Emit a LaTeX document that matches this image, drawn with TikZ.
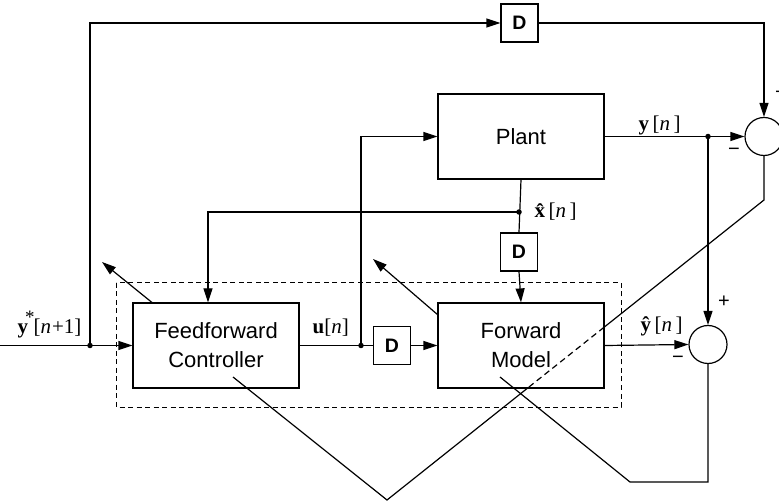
\documentclass[tikz,border=0pt]{standalone}
\usepackage{fontspec}
\setmainfont{Liberation Sans}
\newfontfamily\mathser{Liberation Serif}
\usetikzlibrary{arrows.meta}
\begin{document}
\begin{tikzpicture}[x=1pt,y=-1pt, line width=1.2pt,
  blk/.style={draw, fill=white, minimum width=166pt, minimum height=85pt, align=center, font=\fontsize{22}{29}\selectfont, inner sep=0pt},
  dbox/.style={draw, fill=white, minimum width=37pt, minimum height=38pt, inner sep=0pt, font=\fontsize{19.5}{20}\selectfont\bfseries},
  sumc/.style={draw, circle, minimum size=38pt, inner sep=0pt},
  arr/.style={-{Triangle[length=14pt,width=9pt]}},
  dot/.style={circle, fill, inner sep=0pt, minimum size=5.5pt},
  lbl/.style={font=\mathser\fontsize{21}{21}\selectfont, inner sep=0pt},
  sgn/.style={font=\fontsize{20}{20}\selectfont, inner sep=0pt},
  dashbox/.style={draw, line width=1pt, dash pattern=on 5pt off 3.5pt}
]
\useasboundingbox (0,0) rectangle (779,502);

% dashed enclosure
\draw[dashbox] (116,283) rectangle (621,407);

% blocks
\node[blk] (plant) at (521,136.5) {Plant};
\node[blk] (fc) at (216,345.5) {Feedforward\\Controller};
\node[blk] (fm) at (521,345.5) {Forward\\Model};
\node[dbox] (d1) at (519.5,23) {D};
\node[dbox] (d2) at (392,345.5) {D};
\node[dbox] (d3) at (519,252) {D};
\node[sumc] (c1) at (764,136.5) {};
\node[sumc] (c2) at (708,344.5) {};

% junctions
\coordinate (in) at (0,345.5);
\node[dot] (j1) at (90,345.5) {};
\node[dot] (j2) at (361,345.5) {};
\node[dot] (j3) at (519,212) {};
\node[dot] (j4) at (708,136.5) {};

% signal connectors
\draw[arr] (in) -- (fc.west);
\draw[arr] (j1.center) |- (d1.west);
\draw[arr] (d1.east) -| (c1.north);
\draw (fc.east) -- (d2.west);
\draw[arr] (d2.east) -- (fm.west);
\draw[arr] (j2.center) |- (plant.west);
\draw[arr] (plant.east) -- (c1.west);
\draw[arr] (j4.center) -- (c2.north);
\draw (plant.south) -- (d3.north);
\draw[arr] (j3.center) -| ([xshift=-8pt]fc.north);
\draw[arr] (d3.south) -- (fm.north);
\draw[arr] (fm.east) -- (c2.west);

% performance error path
\coordinate (b1) at (764,200);
\coordinate (b2) at (604,327.3);
\coordinate (b3) at (527.7,388);
\coordinate (v) at (387,500);
\coordinate (b4) at (233,377);
\draw (c1.south) -- (b1) -- (b2);
\draw[dash pattern=on 6pt off 4pt] (b2) -- (b3);
\draw (b3) -- (v) -- (b4);

% prediction error path
\coordinate (a1) at (708,482);
\coordinate (a2) at (630,482);
\coordinate (a3) at (500,377);
\draw (c2.south) -- (a1) -- (a2) -- (a3);

% adjustment arrows
\coordinate (t1s) at (152,302.5);
\coordinate (t1e) at (102,262);
\coordinate (t2s) at (438,315);
\coordinate (t2e) at (373,259);
\draw[arr] (t1s) -- (t1e);
\draw[arr] (t2s) -- (t2e);

% labels
\node[lbl, anchor=base west] (ystar) at (17,334) {{\bfseries y}\kern-3pt\raisebox{10pt}{\fontsize{19}{19}\selectfont *}\kern-1pt[{\itshape n}\kern1pt+1]};
\node[lbl, anchor=base west] (ulbl) at (312,334) {{\bfseries u}[{\itshape n}]};
\node[lbl, anchor=base west] (ylbl) at (638,131) {{\bfseries y}\,[{\itshape n}\,]};
\node[lbl, anchor=base west] (xlbl) at (534,218) {{\bfseries\^{x}}\,[{\itshape n}\,]};
\node[lbl, anchor=base west] (yhlbl) at (640,332) {{\bfseries\^{y}}\,[{\itshape n}\,]};

% signs
\node[sgn] (s1) at (781,93) {+};
\node[sgn] (s2) at (734,152) {−};
\node[sgn] (s3) at (724,302) {+};
\node[sgn] (s4) at (678,360) {−};
\end{tikzpicture}
\end{document}
